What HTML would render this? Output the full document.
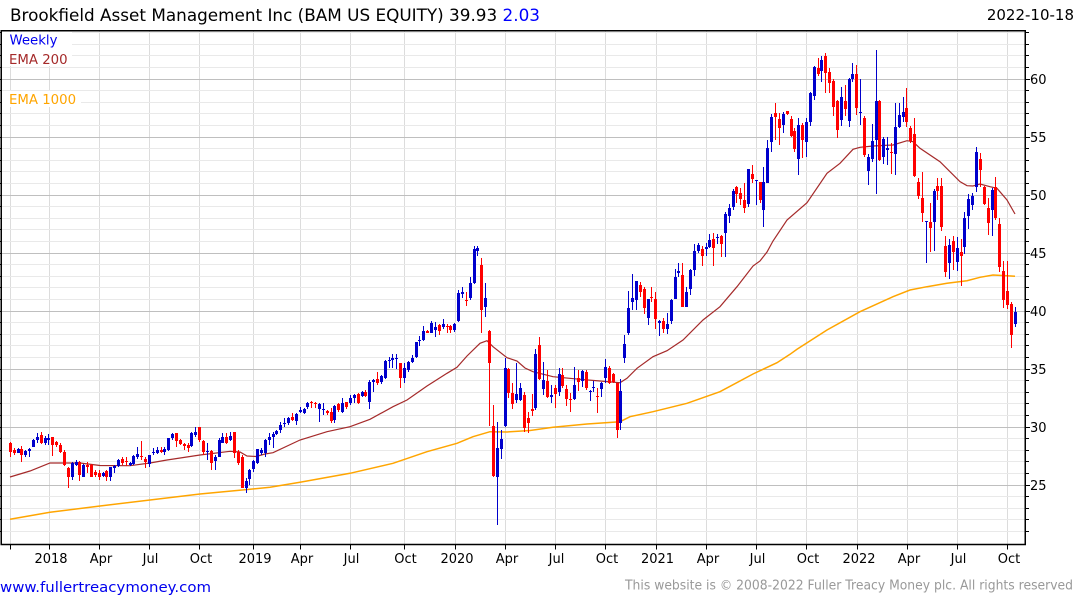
<!DOCTYPE html>
<html><head><meta charset="utf-8"><style>
html,body{margin:0;padding:0;background:#fff;}
svg{display:block;font-family:"DejaVu Sans","Liberation Sans",sans-serif;}
</style></head><body>
<svg width="1075" height="600" viewBox="0 0 1075 600" xmlns="http://www.w3.org/2000/svg">
<rect x="0" y="0" width="1075" height="600" fill="#fff"/>
<!-- vertical grid -->
<path stroke="#dcdcdc" stroke-width="1" fill="none" shape-rendering="crispEdges" d="M10.5 31V544M49.5 31V544M99.5 31V544M149.5 31V544M199.5 31V544M253.5 31V544M300.5 31V544M350.5 31V544M404.5 31V544M455.5 31V544M505.5 31V544M555.5 31V544M605.5 31V544M656.5 31V544M706.5 31V544M756.5 31V544M806.5 31V544M857.5 31V544M907.5 31V544M957.5 31V544M1007.5 31V544"/>
<!-- minor horizontal grid -->
<path stroke="#e9e9e9" stroke-width="1" fill="none" shape-rendering="crispEdges" d="M1 32.5H1025M1 44.5H1025M1 55.5H1025M1 67.5H1025M1 90.5H1025M1 102.5H1025M1 113.5H1025M1 125.5H1025M1 148.5H1025M1 160.5H1025M1 171.5H1025M1 183.5H1025M1 206.5H1025M1 218.5H1025M1 229.5H1025M1 241.5H1025M1 264.5H1025M1 276.5H1025M1 287.5H1025M1 299.5H1025M1 322.5H1025M1 334.5H1025M1 345.5H1025M1 357.5H1025M1 380.5H1025M1 392.5H1025M1 403.5H1025M1 415.5H1025M1 438.5H1025M1 450.5H1025M1 461.5H1025M1 473.5H1025M1 496.5H1025M1 508.5H1025M1 519.5H1025M1 531.5H1025"/>
<!-- major horizontal grid -->
<path stroke="#bfbfbf" stroke-width="1" fill="none" shape-rendering="crispEdges" d="M1 79.5H1025M1 137.5H1025M1 195.5H1025M1 253.5H1025M1 311.5H1025M1 369.5H1025M1 427.5H1025M1 485.5H1025"/>
<!-- legend boxes -->
<rect x="2" y="32" width="70" height="34" fill="#fff"/>
<rect x="2" y="91" width="79" height="16" fill="#fff"/>
<text x="9.5" y="44.3" font-size="13.3" fill="#0000ee">Weekly</text>
<text x="9" y="64" font-size="13.3" fill="#a52a2a">EMA 200</text>
<text x="9" y="104" font-size="13.3" fill="#ffa500">EMA 1000</text>
<!-- EMA 1000 -->
<polyline fill="none" stroke="#ffa500" stroke-width="1.5" points="10,519.3 50,512.3 100,506 150,500 200,494 250,489.3 270,487.3 300,482.3 350,473.3 393,463.3 427,451.7 457,443.3 473,436.7 490,431.7 507,432 530,430.5 553,427.3 587,424 620,421.7 630,416.7 653,411.7 687,403.3 720,391.7 753,374 777,362.7 790,354.3 797,349.3 827,330 860,311.7 893,296.7 910,290 927,286.7 947,283.3 967,280.7 980,277.3 993,275 1007,275.7 1015,276.3"/>
<!-- EMA 200 -->
<polyline fill="none" stroke="#a52a2a" stroke-width="1.2" points="10,477 30,471 50,463 80,463 100,465.5 130,465.7 150,463 167,460 200,455 230,451.3 240,452 247,456 256,456.5 265,454 273,452.7 300,440 327,431.7 350,426.7 370,419.3 393,406.7 407,400 427,386 447,373.3 457,367.3 467,356 480,343.3 487,340.7 493,346.7 507,357.7 517,361 525,368 533,371.7 553,376.7 580,379.3 600,381 620,382.7 627,378.3 637,368.3 653,356.7 667,350.7 683,340 703,320 720,306.7 737,286.7 753,266 760,261 767,252 773,241 787,220 807,202.7 827,173.3 840,163.3 853,149.3 860,147.3 873,146 893,145 907,140.7 913,141.7 920,148.3 940,161.7 960,181.7 967,185.7 973,186 980,184 990,186.7 997,188.3 1007,200 1015,214"/>
<!-- red wicks -->
<path stroke="#ff0000" stroke-width="1" fill="none" shape-rendering="crispEdges" d="M10.5 442V457M14.5 448V455M21.5 446V462M41.5 432V444M52.5 437V456M56.5 441V447M60.5 443V453M64.5 450V466M68.5 467V488M79.5 461V481M87.5 462V473M91.5 464V477M95.5 470V477M99.5 470V480M106.5 470V481M122.5 457V465M126.5 457V466M141.5 441V460M145.5 457V468M161.5 447V453M176.5 433V447M180.5 439V445M184.5 443V450M188.5 443V452M199.5 427V442M203.5 440V455M211.5 450V470M226.5 433V444M234.5 432V458M238.5 450V465M242.5 455V488M292.5 413V421M311.5 401V408M315.5 402V408M327.5 410V415M331.5 408V423M338.5 403V412M346.5 402V409M358.5 393V404M365.5 390V397M377.5 372V385M400.5 363V388M427.5 330V333M439.5 324V335M447.5 324V333M450.5 325V333M466.5 292V306M481.5 258V333M489.5 330V426M493.5 405V477M508.5 368V398M512.5 383V409M524.5 392V432M528.5 412V433M532.5 394V416M539.5 337V380M547.5 370V398M555.5 385V408M562.5 368V388M566.5 385V406M570.5 393V412M578.5 370V391M586.5 370V390M597.5 388V413M609.5 366V384M613.5 373V383M617.5 383V438M640.5 282V297M644.5 287V314M651.5 287V302M655.5 292V329M663.5 318V333M682.5 263V307M702.5 246V266M713.5 233V266M721.5 235V257M736.5 186V203M740.5 188V205M744.5 183V213M752.5 165V183M760.5 182V203M775.5 103V140M779.5 113V145M787.5 111V115M791.5 116V137M794.5 128V152M802.5 123V158M818.5 58V76M825.5 53V93M829.5 68V93M833.5 79V116M837.5 100V138M845.5 85V116M856.5 65V115M864.5 116V157M879.5 100V161M891.5 143V174M906.5 88V127M910.5 126V143M914.5 118V177M918.5 178V199M922.5 172V222M930.5 203V252M937.5 178V200M941.5 178V231M945.5 236V277M953.5 236V270M961.5 239V286M980.5 153V187M984.5 186V205M988.5 198V235M995.5 177V220M999.5 218V272M1003.5 261V308M1007.5 261V309M1011.5 302V348"/>
<!-- red bodies -->
<path fill="#ff0000" shape-rendering="crispEdges" d="M9 443h3v9h-3zM13 450h3v3h-3zM20 449h3v6h-3zM40 435h3v8h-3zM51 437h3v8h-3zM55 442h3v3h-3zM59 445h3v7h-3zM63 452h3v13h-3zM67 468h3v9h-3zM78 462h3v13h-3zM86 465h3v2h-3zM90 465h3v12h-3zM94 472h3v3h-3zM98 473h3v4h-3zM105 471h3v6h-3zM121 459h3v4h-3zM125 461h3v1h-3zM140 456h3v1h-3zM144 459h3v3h-3zM160 450h3v2h-3zM175 433h3v8h-3zM179 440h3v4h-3zM183 444h3v2h-3zM187 445h3v3h-3zM198 427h3v13h-3zM202 441h3v11h-3zM210 451h3v12h-3zM225 437h3v6h-3zM233 432h3v21h-3zM237 452h3v11h-3zM241 457h3v31h-3zM291 417h3v3h-3zM310 402h3v1h-3zM314 403h3v1h-3zM326 411h3v2h-3zM330 412h3v9h-3zM337 404h3v6h-3zM345 402h3v5h-3zM357 394h3v9h-3zM364 392h3v4h-3zM376 379h3v4h-3zM399 363h3v15h-3zM426 331h3v2h-3zM438 325h3v6h-3zM446 326h3v1h-3zM449 326h3v4h-3zM465 300h3v1h-3zM480 265h3v45h-3zM488 331h3v32h-3zM492 426h3v50h-3zM507 369h3v24h-3zM511 393h3v11h-3zM523 395h3v33h-3zM527 418h3v5h-3zM531 409h3v2h-3zM538 345h3v34h-3zM546 381h3v16h-3zM554 388h3v6h-3zM561 375h3v11h-3zM565 389h3v10h-3zM569 399h3v1h-3zM577 378h3v4h-3zM585 372h3v16h-3zM596 396h3v1h-3zM608 368h3v15h-3zM612 374h3v8h-3zM616 383h3v47h-3zM639 285h3v7h-3zM643 289h3v19h-3zM650 297h3v1h-3zM654 299h3v20h-3zM662 321h3v8h-3zM681 275h3v32h-3zM701 249h3v7h-3zM712 239h3v9h-3zM720 236h3v8h-3zM735 187h3v7h-3zM739 193h3v6h-3zM743 200h3v8h-3zM751 174h3v5h-3zM759 182h3v18h-3zM774 113h3v4h-3zM778 119h3v9h-3zM786 111h3v3h-3zM790 119h3v17h-3zM793 131h3v18h-3zM801 125h3v15h-3zM817 68h3v6h-3zM824 56h3v17h-3zM828 72h3v11h-3zM832 81h3v26h-3zM836 101h3v29h-3zM844 101h3v8h-3zM855 74h3v34h-3zM863 118h3v37h-3zM878 101h3v59h-3zM890 152h3v1h-3zM905 108h3v14h-3zM909 128h3v13h-3zM913 134h3v42h-3zM917 182h3v14h-3zM921 198h3v15h-3zM929 222h3v6h-3zM936 186h3v5h-3zM940 186h3v41h-3zM944 246h3v26h-3zM952 241h3v11h-3zM960 252h3v4h-3zM979 159h3v11h-3zM983 187h3v17h-3zM987 208h3v15h-3zM994 187h3v31h-3zM998 224h3v43h-3zM1002 271h3v29h-3zM1006 291h3v14h-3zM1010 304h3v31h-3z"/>
<!-- blue wicks -->
<path stroke="#0000cc" stroke-width="1" fill="none" shape-rendering="crispEdges" d="M18.5 448V453M25.5 450V457M29.5 448V457M33.5 439V447M37.5 433V443M45.5 436V445M48.5 434V445M72.5 462V480M76.5 460V466M83.5 464V477M103.5 472V477M110.5 467V481M114.5 465V473M118.5 459V467M130.5 462V466M133.5 455V465M137.5 447V459M149.5 455V467M153.5 448V455M157.5 447V454M164.5 447V455M168.5 438V451M172.5 433V440M191.5 432V447M195.5 427V437M207.5 443V460M215.5 455V470M219.5 438V457M222.5 433V443M230.5 432V441M246.5 478V493M249.5 469V485M253.5 460V472M257.5 449V464M261.5 448V455M265.5 439V457M269.5 433V445M273.5 432V448M276.5 430V435M280.5 422V433M284.5 418V427M288.5 417V425M296.5 413V425M300.5 407V413M304.5 408V414M307.5 402V409M319.5 403V422M323.5 403V415M334.5 405V423M342.5 398V413M350.5 395V405M354.5 394V403M362.5 391V397M369.5 380V409M373.5 379V392M381.5 375V384M385.5 360V379M389.5 357V368M392.5 354V368M396.5 354V369M404.5 363V383M408.5 361V372M412.5 355V363M416.5 342V358M419.5 336V346M423.5 326V341M431.5 321V333M435.5 322V337M443.5 319V329M454.5 323V332M458.5 290V322M462.5 287V298M470.5 277V300M474.5 246V284M477.5 246V256M485.5 283V317M497.5 422V525M501.5 430V459M505.5 358V427M516.5 363V403M520.5 383V401M535.5 349V410M543.5 362V395M551.5 385V403M559.5 368V396M574.5 367V400M582.5 370V387M590.5 390V401M593.5 381V392M601.5 382V397M605.5 359V383M620.5 379V430M624.5 335V363M628.5 291V335M632.5 274V310M636.5 281V310M648.5 299V325M659.5 320V336M667.5 313V334M671.5 299V324M675.5 269V299M678.5 263V277M686.5 287V307M690.5 269V295M694.5 244V276M698.5 243V253M706.5 243V256M709.5 234V248M717.5 234V244M725.5 212V257M729.5 204V223M733.5 189V210M748.5 169V207M756.5 180V205M763.5 167V227M767.5 140V183M771.5 114V152M783.5 112V133M798.5 118V175M806.5 118V157M810.5 92V126M814.5 66V100M821.5 56V82M841.5 87V126M849.5 78V127M852.5 63V82M860.5 79V125M868.5 154V185M872.5 124V162M876.5 50V194M883.5 137V164M887.5 137V165M895.5 103V175M899.5 103V128M903.5 97V122M926.5 221V263M934.5 189V251M949.5 239V279M957.5 237V271M964.5 212V254M968.5 194V229M972.5 193V210M976.5 147V192M992.5 188V236M1015.5 307V327"/>
<!-- blue bodies -->
<path fill="#0000cc" shape-rendering="crispEdges" d="M17 449h3v4h-3zM24 451h3v4h-3zM28 449h3v2h-3zM32 440h3v7h-3zM36 437h3v3h-3zM44 438h3v5h-3zM47 438h3v2h-3zM71 463h3v14h-3zM75 462h3v3h-3zM82 465h3v12h-3zM102 473h3v3h-3zM109 467h3v10h-3zM113 466h3v2h-3zM117 460h3v6h-3zM129 463h3v2h-3zM132 456h3v8h-3zM136 454h3v3h-3zM148 455h3v9h-3zM152 452h3v1h-3zM156 450h3v3h-3zM163 449h3v3h-3zM167 438h3v12h-3zM171 434h3v4h-3zM190 433h3v13h-3zM194 432h3v3h-3zM206 451h3v1h-3zM214 457h3v4h-3zM218 440h3v17h-3zM221 437h3v6h-3zM229 436h3v4h-3zM245 481h3v7h-3zM248 470h3v9h-3zM252 461h3v8h-3zM256 449h3v14h-3zM260 450h3v3h-3zM264 440h3v13h-3zM268 437h3v3h-3zM272 434h3v3h-3zM275 431h3v3h-3zM279 425h3v5h-3zM283 423h3v1h-3zM287 418h3v5h-3zM295 414h3v7h-3zM299 410h3v2h-3zM303 409h3v4h-3zM306 403h3v4h-3zM318 404h3v5h-3zM322 409h3v1h-3zM333 406h3v14h-3zM341 403h3v9h-3zM349 398h3v5h-3zM353 395h3v3h-3zM361 392h3v4h-3zM368 382h3v20h-3zM372 380h3v2h-3zM380 376h3v6h-3zM384 361h3v17h-3zM388 360h3v1h-3zM391 358h3v2h-3zM395 358h3v1h-3zM403 368h3v10h-3zM407 362h3v8h-3zM411 358h3v4h-3zM415 342h3v15h-3zM418 340h3v1h-3zM422 331h3v9h-3zM430 323h3v10h-3zM434 327h3v3h-3zM442 324h3v3h-3zM453 324h3v6h-3zM457 293h3v28h-3zM461 292h3v2h-3zM469 283h3v15h-3zM473 249h3v34h-3zM476 248h3v3h-3zM484 298h3v9h-3zM496 448h3v29h-3zM500 439h3v10h-3zM504 368h3v58h-3zM515 394h3v6h-3zM519 388h3v12h-3zM534 354h3v54h-3zM542 380h3v9h-3zM550 395h3v2h-3zM558 374h3v18h-3zM573 385h3v14h-3zM581 371h3v10h-3zM589 391h3v1h-3zM592 387h3v1h-3zM600 383h3v6h-3zM604 367h3v11h-3zM619 391h3v32h-3zM623 344h3v14h-3zM627 308h3v25h-3zM631 298h3v4h-3zM635 281h3v19h-3zM647 299h3v19h-3zM658 321h3v2h-3zM666 324h3v5h-3zM670 300h3v21h-3zM674 277h3v22h-3zM677 271h3v2h-3zM685 292h3v15h-3zM689 270h3v19h-3zM693 251h3v19h-3zM697 245h3v6h-3zM705 247h3v2h-3zM708 240h3v7h-3zM716 237h3v1h-3zM724 214h3v19h-3zM728 208h3v8h-3zM732 191h3v16h-3zM747 169h3v35h-3zM755 180h3v1h-3zM762 182h3v28h-3zM766 148h3v35h-3zM770 117h3v25h-3zM782 114h3v11h-3zM797 125h3v34h-3zM805 122h3v20h-3zM809 93h3v29h-3zM813 67h3v29h-3zM820 60h3v11h-3zM840 97h3v23h-3zM848 79h3v42h-3zM851 74h3v5h-3zM859 112h3v1h-3zM867 157h3v14h-3zM871 141h3v18h-3zM875 101h3v39h-3zM882 139h3v18h-3zM886 148h3v2h-3zM894 127h3v27h-3zM898 115h3v12h-3zM902 112h3v5h-3zM925 221h3v1h-3zM933 191h3v31h-3zM948 245h3v18h-3zM956 248h3v14h-3zM963 218h3v29h-3zM967 199h3v17h-3zM971 196h3v9h-3zM975 152h3v35h-3zM991 190h3v20h-3zM1014 312h3v12h-3z"/>
<!-- frame -->
<rect x="1.25" y="30.75" width="1024" height="513.75" fill="none" stroke="#000" stroke-width="1.5"/>
<!-- right ticks -->
<path stroke="#000" stroke-width="1" fill="none" shape-rendering="crispEdges" d="M1026 32.5h3M1026 44.5h3M1026 55.5h3M1026 67.5h3M1026 90.5h3M1026 102.5h3M1026 113.5h3M1026 125.5h3M1026 148.5h3M1026 160.5h3M1026 171.5h3M1026 183.5h3M1026 206.5h3M1026 218.5h3M1026 229.5h3M1026 241.5h3M1026 264.5h3M1026 276.5h3M1026 287.5h3M1026 299.5h3M1026 322.5h3M1026 334.5h3M1026 345.5h3M1026 357.5h3M1026 380.5h3M1026 392.5h3M1026 403.5h3M1026 415.5h3M1026 438.5h3M1026 450.5h3M1026 461.5h3M1026 473.5h3M1026 496.5h3M1026 508.5h3M1026 519.5h3M1026 531.5h3M1026 79.5h4M1026 137.5h4M1026 195.5h4M1026 253.5h4M1026 311.5h4M1026 369.5h4M1026 427.5h4M1026 485.5h4M0 32.5h1M0 44.5h1M0 55.5h1M0 67.5h1M0 79.5h1M0 90.5h1M0 102.5h1M0 113.5h1M0 125.5h1M0 137.5h1M0 148.5h1M0 160.5h1M0 171.5h1M0 183.5h1M0 195.5h1M0 206.5h1M0 218.5h1M0 229.5h1M0 241.5h1M0 253.5h1M0 264.5h1M0 276.5h1M0 287.5h1M0 299.5h1M0 311.5h1M0 322.5h1M0 334.5h1M0 345.5h1M0 357.5h1M0 369.5h1M0 380.5h1M0 392.5h1M0 403.5h1M0 415.5h1M0 427.5h1M0 438.5h1M0 450.5h1M0 461.5h1M0 473.5h1M0 485.5h1M0 496.5h1M0 508.5h1M0 519.5h1M0 531.5h1"/>
<!-- bottom ticks -->
<path stroke="#000" stroke-width="1" fill="none" shape-rendering="crispEdges" d="M10.5 545v4.5M49.5 545v4.5M99.5 545v4.5M149.5 545v4.5M199.5 545v4.5M253.5 545v4.5M300.5 545v4.5M350.5 545v4.5M404.5 545v4.5M455.5 545v4.5M505.5 545v4.5M555.5 545v4.5M605.5 545v4.5M656.5 545v4.5M706.5 545v4.5M756.5 545v4.5M806.5 545v4.5M857.5 545v4.5M907.5 545v4.5M957.5 545v4.5M1007.5 545v4.5"/>
<!-- right labels -->
<g font-size="13" fill="#000">
<text x="1030" y="84">60</text>
<text x="1030" y="142">55</text>
<text x="1030" y="200">50</text>
<text x="1030" y="258">45</text>
<text x="1030" y="316">40</text>
<text x="1030" y="374">35</text>
<text x="1030" y="432">30</text>
<text x="1030" y="490">25</text>
</g>
<!-- bottom labels -->
<g font-size="13" fill="#000" text-anchor="middle">
<text x="51" y="563">2018</text>
<text x="101" y="563">Apr</text>
<text x="150.5" y="563">Jul</text>
<text x="201" y="563">Oct</text>
<text x="255" y="563">2019</text>
<text x="302" y="563">Apr</text>
<text x="351.5" y="563">Jul</text>
<text x="405.5" y="563">Oct</text>
<text x="457" y="563">2020</text>
<text x="507" y="563">Apr</text>
<text x="556.5" y="563">Jul</text>
<text x="607" y="563">Oct</text>
<text x="657.5" y="563">2021</text>
<text x="708" y="563">Apr</text>
<text x="757.5" y="563">Jul</text>
<text x="808" y="563">Oct</text>
<text x="859" y="563">2022</text>
<text x="909" y="563">Apr</text>
<text x="958.5" y="563">Jul</text>
<text x="1009" y="563">Oct</text>
</g>
<!-- title -->
<text x="10" y="21" font-size="16.7" fill="#000" textLength="530" lengthAdjust="spacingAndGlyphs">Brookfield Asset Management Inc (BAM US EQUITY) 39.93 <tspan fill="#0000ff">2.03</tspan></text>
<text x="1074" y="20" font-size="15" fill="#000" text-anchor="end">2022-10-18</text>
<!-- footer -->
<text x="0" y="592" font-size="14.6" fill="#0000ee" textLength="211" lengthAdjust="spacingAndGlyphs">www.fullertreacymoney.com</text>
<text x="625" y="589.5" font-size="13" fill="#999999" textLength="448" lengthAdjust="spacingAndGlyphs">This website is © 2008-2022 Fuller Treacy Money plc. All rights reserved</text>
</svg>
</body></html>
